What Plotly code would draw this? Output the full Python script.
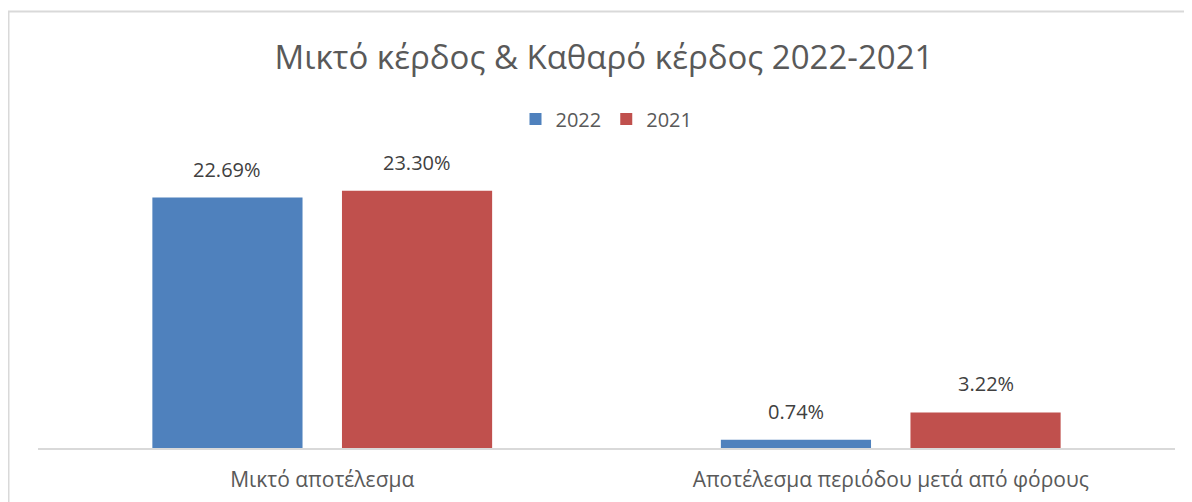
import plotly.graph_objects as go

categories = ["Μικτό αποτέλεσμα", "Αποτέλεσμα περιόδου μετά από φόρους"]
values_2022 = [22.69, 0.74]
values_2021 = [23.30, 3.22]
series_names = ["2022", "2021"]
title_text = "Μικτό κέρδος & Καθαρό κέρδος 2022-2021"

FONT = "Open Sans"
W, H = 1192, 502
ML, MR, MT, MB = 30, 25, 164, 62
PW = W - ML - MR
PH = H - MT - MB
BARGAP, GROUPGAP = 0.333, 0.208
slot_px = PW / len(categories) * (1 - BARGAP) / 2

fig = go.Figure()
series = [(series_names[0], values_2022, "#4f81bd"),
          (series_names[1], values_2021, "#c0504d")]
annotations = []
for i, (name, vals, color) in enumerate(series):
    fig.add_trace(go.Bar(
        x=categories, y=vals, name=name,
        marker=dict(color=color, line=dict(width=0)),
    ))
    shift = (i - 0.5) * slot_px
    for c, v in zip(categories, vals):
        annotations.append(dict(
            x=c, y=v, xref="x", yref="y", text=f"{v:.2f}%", showarrow=False,
            xshift=shift, yshift=13, yanchor="bottom",
            font=dict(family=FONT, size=20, color="#404040"),
        ))

fig.update_layout(
    width=W, height=H,
    paper_bgcolor="white", plot_bgcolor="white",
    margin=dict(l=ML, r=MR, t=MT, b=MB),
    barmode="group", bargap=BARGAP, bargroupgap=GROUPGAP,
    title=dict(text=title_text, x=0.5, xanchor="center", y=1 - 49 / H, yanchor="middle",
               font=dict(family=FONT, size=33, color="#595959")),
    legend=dict(orientation="h", x=0.5, xanchor="center", y=1.192, yanchor="middle",
                font=dict(family=FONT, size=20, color="#595959"), itemwidth=30,
                traceorder="normal"),
    xaxis=dict(showline=True, linecolor="#d9d9d9", linewidth=2, ticks="",
               tickfont=dict(family=FONT, size=21, color="#595959"), ticklabelstandoff=12),
    yaxis=dict(range=[0, 25], visible=False, showgrid=False, zeroline=False),
    showlegend=True,
    annotations=annotations,
    shapes=[dict(type="rect", xref="paper", yref="paper",
                 x0=(0.5 - ML) / PW, x1=1.1, y0=-0.4, y1=(PH + MT - 3.5) / PH,
                 line=dict(color="#d9d9d9", width=2), fillcolor="rgba(0,0,0,0)")],
)

fig.write_html("out.html")
